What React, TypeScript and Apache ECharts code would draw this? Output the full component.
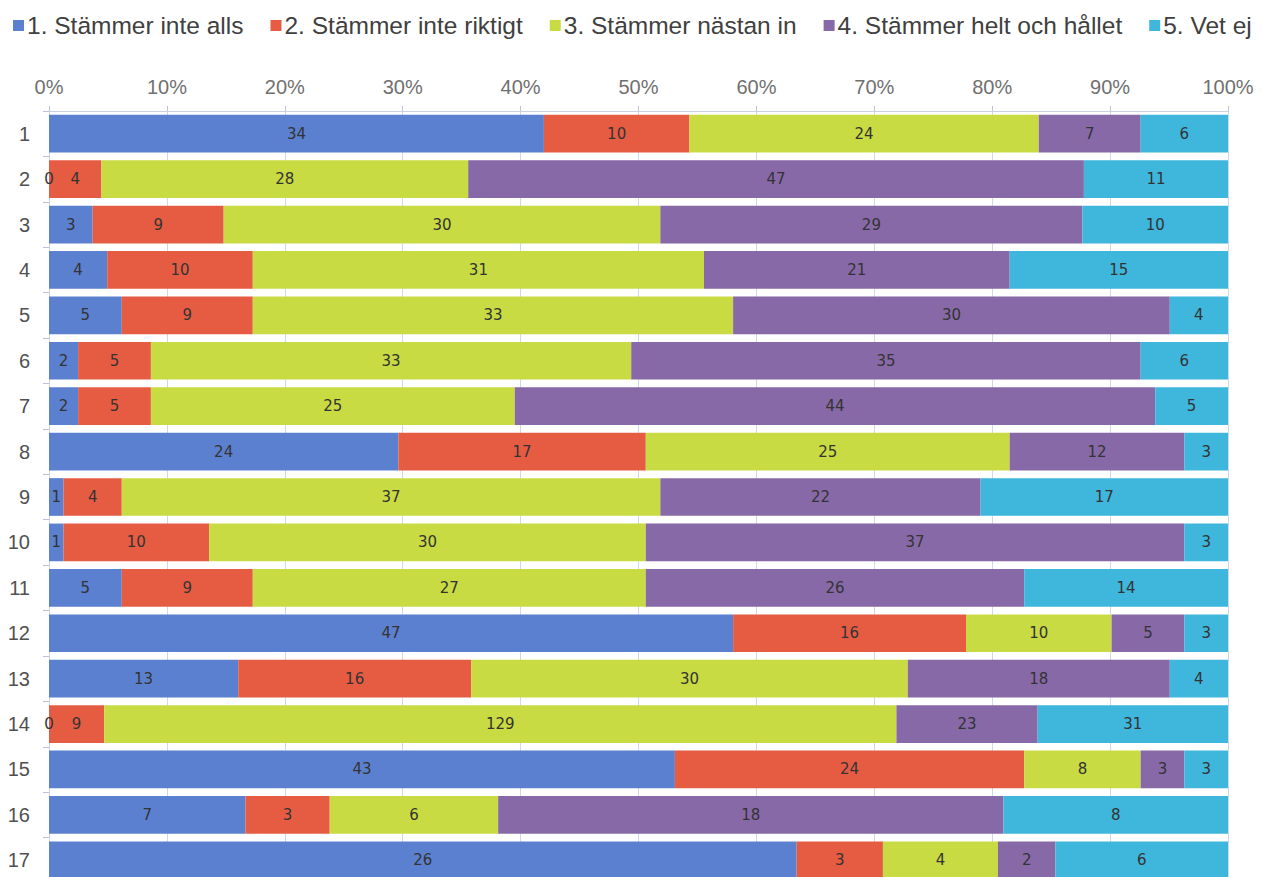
import React, { useEffect, useRef } from "react";
import * as echarts from "echarts";

const questions = ["1","2","3","4","5","6","7","8","9","10","11","12","13","14","15","16","17"];
const seriesNames = [
  "1. Stämmer inte alls",
  "2. Stämmer inte riktigt",
  "3. Stämmer nästan in",
  "4. Stämmer helt och hållet",
  "5. Vet ej",
];
const notAtAll = [34, 0, 3, 4, 5, 2, 2, 24, 1, 1, 5, 47, 13, 0, 43, 7, 26];
const notReally = [10, 4, 9, 10, 9, 5, 5, 17, 4, 10, 9, 16, 16, 9, 24, 3, 3];
const almost = [24, 28, 30, 31, 33, 33, 25, 25, 37, 30, 27, 10, 30, 129, 8, 6, 4];
const fully = [7, 47, 29, 21, 30, 35, 44, 12, 22, 37, 26, 5, 18, 23, 3, 18, 2];
const dontKnow = [6, 11, 10, 15, 4, 6, 5, 3, 17, 3, 14, 3, 4, 31, 3, 8, 6];
const xTicks = [0, 10, 20, 30, 40, 50, 60, 70, 80, 90, 100];

const colors = ["#5b80cf", "#e65c43", "#c9db42", "#8769a8", "#3fb6dc"];

export default function App() {
  const ref = useRef<HTMLDivElement>(null);
  useEffect(() => {
    if (!ref.current) return;
    const chart = echarts.init(ref.current, null, { renderer: "svg" });
    const raw = [notAtAll, notReally, almost, fully, dontKnow];
    const totals = questions.map((_, i) => raw.reduce((s, arr) => s + arr[i], 0));
    chart.setOption({
      animation: false,
      backgroundColor: "#ffffff",
      color: colors,
      legend: {
        left: 8,
        top: 8,
        itemWidth: 11,
        itemHeight: 11,
        itemGap: 27,
        icon: "rect",
        textStyle: { fontFamily: "Liberation Sans", fontSize: 24.5, color: "#404040", padding: [0, 0, 0, -2] },
        data: seriesNames,
      },
      grid: { left: 49, right: 34, top: 111, bottom: 17 },
      xAxis: {
        type: "value",
        position: "top",
        min: xTicks[0],
        max: xTicks[xTicks.length - 1],
        interval: 10,
        axisLine: { show: true, lineStyle: { color: "#c8d2e0" } },
        axisTick: { show: true, length: 5, lineStyle: { color: "#b8c4d6" } },
        splitLine: { show: true, lineStyle: { color: "#cdd8e8", width: 1 } },
        axisLabel: {
          formatter: "{value}%",
          fontFamily: "Liberation Sans",
          fontSize: 20,
          color: "#707070",
          margin: 14,
        },
      },
      yAxis: {
        type: "category",
        inverse: true,
        data: questions,
        axisLine: { show: true, lineStyle: { color: "#c8d2e0" } },
        axisTick: { show: true, length: 6, lineStyle: { color: "#b8c4d6" } },
        axisLabel: { fontFamily: "Liberation Sans", fontSize: 20, color: "#505050", margin: 19 },
      },
      series: raw.map((arr, si) => ({
        name: seriesNames[si],
        type: "bar",
        stack: "total",
        barCategoryGap: "17%",
        data: arr.map((v, i) => (v / totals[i]) * 100),
        itemStyle: { color: colors[si] },
        label: {
          show: true,
          position: "inside",
          fontFamily: "DejaVu Sans",
          fontSize: 15,
          color: "#333333",
          formatter: (p: any) => String(arr[p.dataIndex]),
        },
      })),
    });
    return () => chart.dispose();
  }, []);
  return (
    <div
      ref={ref}
      style={{ position: "fixed", top: 0, left: 0, width: 1262, height: 900 }}
    />
  );
}
